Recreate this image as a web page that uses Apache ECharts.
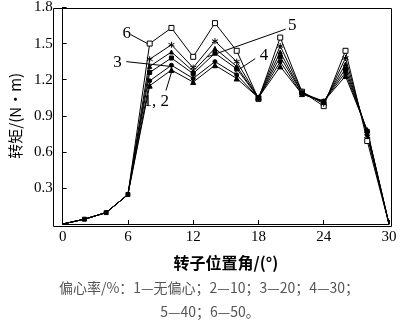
<!DOCTYPE html>
<html><head><meta charset="utf-8">
<script src="https://cdn.jsdelivr.net/npm/echarts@6/dist/echarts.min.js"></script>
<style>html,body{margin:0;padding:0;background:#fff;}#c{width:400px;height:322px;}</style>
</head><body><div id="c"></div>
<script>
const angles = [0,2,4,6,8,10,12,14,16,18,20,22,24,26,28,30];
const s1 = [0,0.04,0.095,0.245,1.15,1.28,1.18,1.32,1.21,1.05,1.31,1.08,1.02,1.23,0.78,0];
const s2 = [0,0.04,0.095,0.245,1.19,1.32,1.21,1.35,1.24,1.05,1.35,1.08,1.02,1.26,0.77,0];
const s3 = [0,0.04,0.095,0.245,1.26,1.38,1.25,1.42,1.29,1.05,1.39,1.09,1.02,1.29,0.77,0];
const s4 = [0,0.04,0.095,0.245,1.31,1.43,1.27,1.46,1.31,1.05,1.43,1.09,1.01,1.33,0.75,0];
const s5 = [0,0.04,0.095,0.245,1.37,1.49,1.30,1.52,1.35,1.05,1.48,1.10,1.00,1.38,0.73,0];
const s6 = [0,0.04,0.095,0.245,1.50,1.63,1.39,1.67,1.44,1.04,1.55,1.10,0.98,1.44,0.69,0];
const yTicks = ['0.3','0.6','0.9','1.2','1.5','1.8'];
const xTicks = ['0','6','12','18','24','30'];
const annotations = [
  {text:'6', tx:5.9, ty:1.58, from:[6.25,1.575], to:[7.8,1.50]},
  {text:'3', tx:5.05, ty:1.34, from:[5.85,1.35], to:[9.95,1.31]},
  {text:'1, 2', tx:8.6, ty:1.02, from:[9.5,1.11], to:[10.1,1.29]},
  {text:'5', tx:21.1, ty:1.65, from:[20.5,1.62], to:[13.3,1.39]},
  {text:'4', tx:18.5, ty:1.40, from:[17.7,1.375], to:[15.8,1.26]}
];
const star = 'path://M0,-5L0,5M-4.3,-2.5L4.3,2.5M-4.3,2.5L4.3,-2.5';
const serif = '"Liberation Serif","Noto Sans CJK SC",serif';
const cjk = '"Noto Sans CJK SC",sans-serif';
function mk(data, symbol, size, filled, fromIdx){
  return {type:'line', data: angles.map((a,i)=>({value:[a,data[i]], symbol:(i<fromIdx||i===0||i===angles.length-1)?'none':symbol})),
    symbol, symbolSize:size, showSymbol:true,
    lineStyle:{color:'#000',width:1},
    itemStyle:{color: filled?'#000':'#fff', borderColor:'#000', borderWidth:1},
    animation:false};
}
const frame = [
  {type:'rect',left:51,top:6,shape:{width:338,height:218},style:{fill:'none',stroke:'#000',lineWidth:1},silent:true},
  {type:'text',x:209,y:281,style:{text:'偏心率/%：1—无偏心；2—10；3—20；4—30；',font:'14px "Noto Sans CJK SC",sans-serif',fill:'#555',align:'center'}},
  {type:'text',x:210,y:305,style:{text:'5—40；6—50。',font:'14px "Noto Sans CJK SC",sans-serif',fill:'#555',align:'center'}}
];
const chart = echarts.init(document.getElementById('c'));
chart.setOption({
  animation:false,
  grid:{left:51,right:11,top:6,bottom:98},
  xAxis:{type:'value',min:0,max:30,interval:6,
    axisLine:{lineStyle:{color:'#000',width:1}},
    axisTick:{inside:true,length:4,lineStyle:{color:'#000'}},
    splitLine:{show:false},
    axisLabel:{color:'#000',fontFamily:serif,fontSize:15,margin:6,formatter:v=>xTicks.includes(String(v))?String(v):''},
    name:'转子位置角/(°)',nameLocation:'middle',nameGap:31,
    nameTextStyle:{color:'#000',fontFamily:cjk,fontSize:16,fontWeight:'bold'}},
  yAxis:{type:'value',min:0,max:1.8,interval:0.3,
    axisLine:{show:true,lineStyle:{color:'#000',width:1}},
    axisTick:{show:true,inside:true,length:4,lineStyle:{color:'#000'}},
    splitLine:{show:false},
    axisLabel:{color:'#000',fontFamily:serif,fontSize:15,margin:10,formatter:v=>{const s=v.toFixed(1);return yTicks.includes(s)?s:'';}},
    name:'转矩/(N·m)',nameLocation:'middle',nameGap:38,
    nameTextStyle:{color:'#000',fontFamily:cjk,fontSize:15}},
  series:[
    mk(s6,'rect',5,false,4),
    mk(s5,star,6,false,4),
    mk(s4,'triangle',4,true,4),
    mk(s2,'circle',4,true,4),
    mk(s1,'triangle',5,true,4),
    mk(s3,'rect',4,true,1)
  ],
  graphic: frame
});
const extra = [];
annotations.forEach(a=>{
  const t = chart.convertToPixel({gridIndex:0},[a.tx,a.ty]);
  const p1 = chart.convertToPixel({gridIndex:0},a.from);
  const p2 = chart.convertToPixel({gridIndex:0},a.to);
  extra.push({type:'text',x:t[0],y:t[1],style:{text:a.text,font:'17px "Liberation Serif",serif',fill:'#000',align:'center',verticalAlign:'middle'},z:10});
  extra.push({type:'line',shape:{x1:p1[0],y1:p1[1],x2:p2[0],y2:p2[1]},style:{stroke:'#000',lineWidth:1},z:10});
});
chart.setOption({graphic: frame.concat(extra)}, {replaceMerge:['graphic']});
</script></body></html>
